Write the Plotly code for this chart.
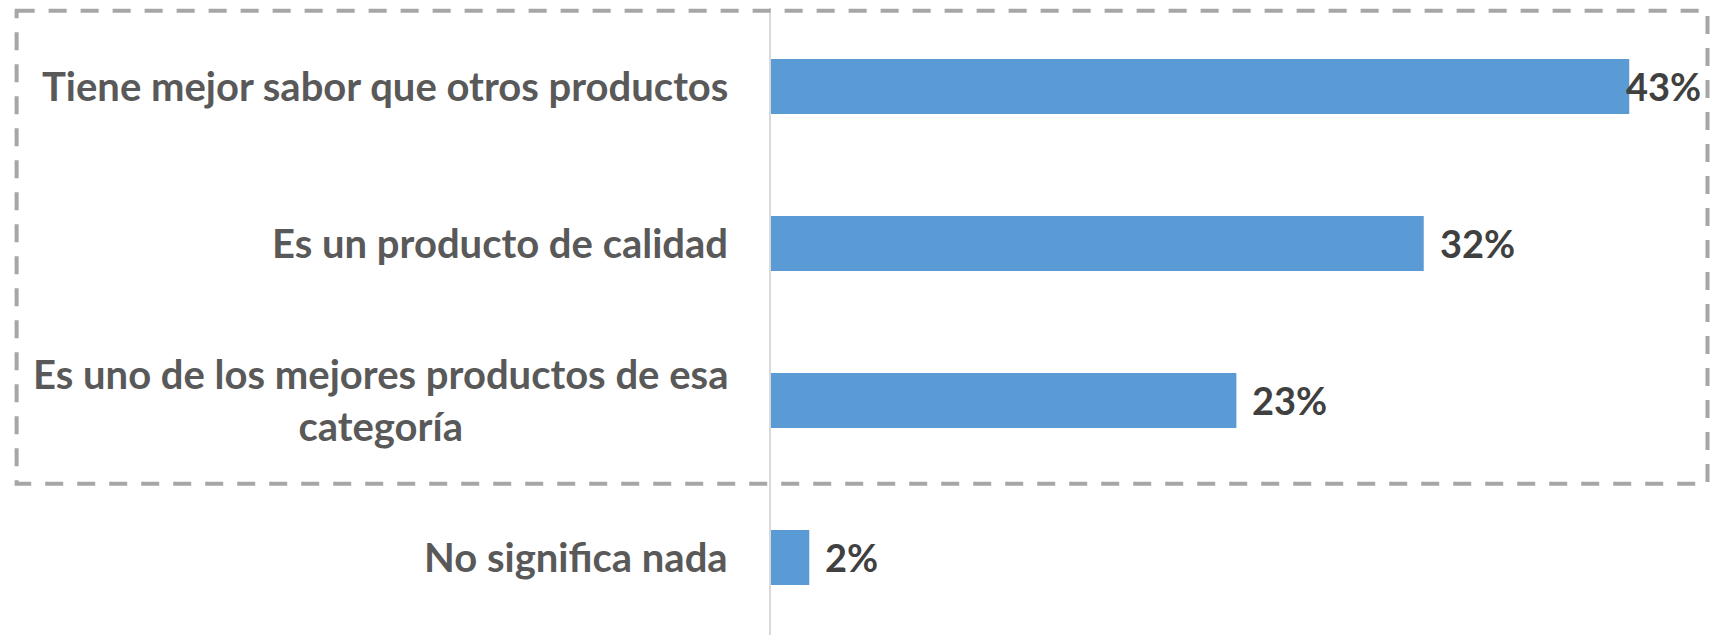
import plotly.graph_objects as go

categories = [
    "Tiene mejor sabor que otros productos",
    "Es un producto de calidad",
    "Es uno de los mejores productos de esa<br>categoría",
    "No significa nada",
]
values = [42.6, 32.4, 23.1, 1.9]
value_labels = ["43%", "32%", "23%", "2%"]
label_shift = [-5, 14, 14, 14]

FONT = "Lato"
fig = go.Figure()
fig.add_trace(go.Bar(
    x=values, y=list(range(len(categories))), orientation="h",
    marker=dict(color="#5B9BD5", line=dict(width=0)),
    width=0.35, hoverinfo="skip",
))

annotations = []
for i, (c, v, t, s) in enumerate(zip(categories, values, value_labels, label_shift)):
    annotations.append(dict(
        x=0, xref="paper", y=i, yref="y", text=f"<b>{c}</b>",
        xanchor="right", yanchor="middle", align="center", xshift=-41,
        showarrow=False, font=dict(family=FONT, size=40, color="#595959"),
    ))
    annotations.append(dict(
        x=v, xref="x", y=i, yref="y", text=f"<b>{t}</b>",
        xanchor="left", yanchor="middle", xshift=s,
        showarrow=False, font=dict(family=FONT, size=38, color="#404040"),
    ))

fig.update_layout(
    width=1724, height=635,
    margin=dict(l=763, r=0, t=0, b=0),
    paper_bgcolor="white", plot_bgcolor="white",
    showlegend=False,
    xaxis=dict(range=[0, 47.7], visible=False, showgrid=False, zeroline=False),
    yaxis=dict(range=[3.545, -0.5], showticklabels=False, showgrid=False,
               zeroline=False, showline=True, linecolor="#D9D9D9", linewidth=2,
               ticks=""),
    annotations=annotations,
    shapes=[dict(
        type="rect", xref="paper", yref="y",
        x0=-0.785, x1=0.9745, y0=-0.482, y1=2.53,
        line=dict(color="#A6A6A6", width=4, dash="18px,14px"),
        fillcolor="rgba(0,0,0,0)", layer="above",
    )],
)

fig.write_html("out.html")
